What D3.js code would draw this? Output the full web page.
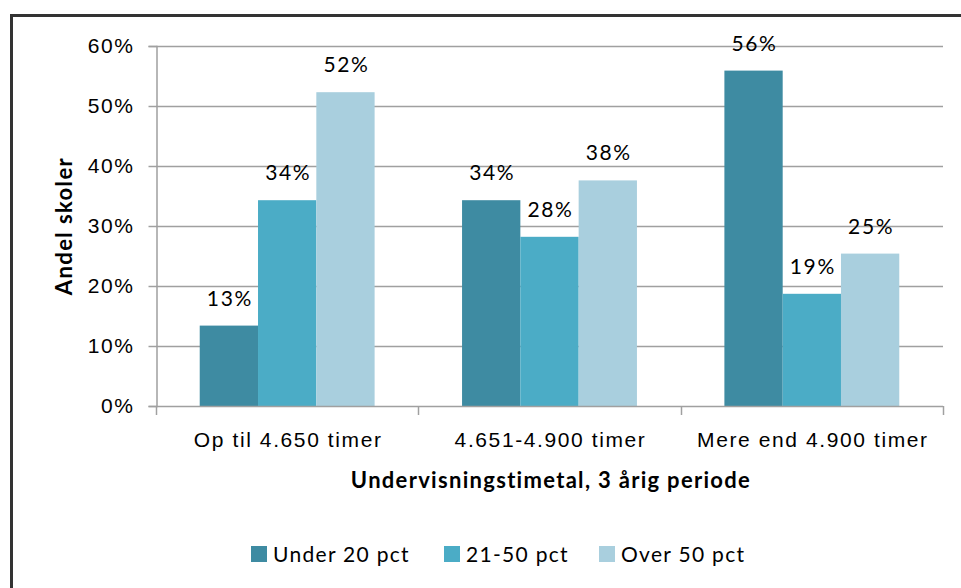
<!DOCTYPE html>
<html>
<head>
<meta charset="utf-8">
<script src="https://cdn.jsdelivr.net/npm/d3@7"></script>
<style>
  body { margin: 0; background: #fff; }
  svg { display: block; font-family: Lato, "Open Sans", sans-serif; }
  .tick text { font-size: 21px; fill: #000; letter-spacing: 1.6px; }
</style>
</head>
<body>
<svg id="chart" width="961" height="588"></svg>
<script>
// data
const categories = ["Op til 4.650 timer", "4.651-4.900 timer", "Mere end 4.900 timer"];
const seriesNames = ["Under 20 pct", "21-50 pct", "Over 50 pct"];
const under20 = [0.134, 0.343, 0.559];
const pct21to50 = [0.343, 0.282, 0.187];
const over50 = [0.523, 0.376, 0.254];
const yTicks = [0, 0.1, 0.2, 0.3, 0.4, 0.5, 0.6];
const colors = ["#3e8ba2", "#4bacc6", "#a9cfde"];

const seriesVals = [under20, pct21to50, over50];

const svg = d3.select("#chart");

// frame (only top and left edges show in the crop)
svg.append("line").attr("x1", 11).attr("x2", 961).attr("y1", 15.5).attr("y2", 15.5)
  .attr("stroke", "#333").attr("stroke-width", 3);
svg.append("line").attr("x1", 11.5).attr("x2", 11.5).attr("y1", 14).attr("y2", 588)
  .attr("stroke", "#333").attr("stroke-width", 3);

const pLeft = 156, pRight = 943, pTop = 46, pBottom = 406;

const y = d3.scaleLinear().domain([0, 0.6]).range([pBottom, pTop]);
const x = d3.scaleBand().domain(categories).range([pLeft, pRight]).padding(0);
const xs = d3.scaleBand().domain(d3.range(seriesNames.length))
  .range([0, x.bandwidth()]).paddingInner(0).paddingOuter(0.75);

// gridlines
svg.append("g").selectAll("line").data(yTicks.slice(1)).join("line")
  .attr("x1", pLeft).attr("x2", pRight)
  .attr("y1", d => Math.round(y(d)) + 0.5).attr("y2", d => Math.round(y(d)) + 0.5)
  .attr("stroke", "#a0a0a0").attr("stroke-width", 1.5);

// y axis
const yAxis = svg.append("g").attr("transform", `translate(${pLeft + 0.5},0)`)
  .call(d3.axisLeft(y).tickValues(yTicks).tickFormat(d3.format(".0%")).tickSize(8).tickPadding(14));
yAxis.select(".domain").attr("stroke", "#a0a0a0").attr("stroke-width", 1.5);
yAxis.selectAll(".tick line").attr("stroke", "#a0a0a0").attr("stroke-width", 1.5);

// bars
const rows = categories.map((c, i) => seriesVals.map((s, j) => ({cat: c, j: j, v: s[i]})));
const groups = svg.append("g").selectAll("g").data(rows).join("g")
  .attr("transform", (d, i) => `translate(${x(categories[i])},0)`);
groups.selectAll("rect").data(d => d).join("rect")
  .attr("x", d => xs(d.j)).attr("width", xs.bandwidth())
  .attr("y", d => y(d.v)).attr("height", d => y(0) - y(d.v))
  .attr("fill", d => colors[d.j]);
groups.selectAll("text").data(d => d).join("text")
  .attr("x", d => xs(d.j) + xs.bandwidth() / 2 + 1)
  .attr("y", d => y(d.v) - 20)
  .attr("text-anchor", "middle").attr("font-size", 21).attr("letter-spacing", 1.6)
  .attr("fill", "#000")
  .text(d => d3.format(".0%")(d.v));

// x axis
const xAxis = svg.append("g").attr("transform", `translate(0,${pBottom + 0.5})`)
  .call(d3.axisBottom(x).tickSize(0).tickPadding(26));
xAxis.select(".domain").remove();
xAxis.selectAll(".tick text").attr("dx", 1);
svg.append("line").attr("x1", pLeft).attr("x2", pRight)
  .attr("y1", pBottom + 0.5).attr("y2", pBottom + 0.5)
  .attr("stroke", "#a0a0a0").attr("stroke-width", 1.5);
const bounds = categories.map(c => x(c)).concat([x(categories[categories.length - 1]) + x.bandwidth()]);
svg.append("g").selectAll("line").data(bounds).join("line")
  .attr("x1", d => Math.round(d) + 0.5).attr("x2", d => Math.round(d) + 0.5)
  .attr("y1", pBottom).attr("y2", pBottom + 9)
  .attr("stroke", "#a0a0a0").attr("stroke-width", 1.5);

// axis titles
svg.append("text").attr("transform", "translate(72,226) rotate(-90)")
  .attr("text-anchor", "middle").attr("font-size", 22).attr("font-weight", "bold")
  .attr("letter-spacing", 1.4)
  .text("Andel skoler");
svg.append("text").attr("x", 551).attr("y", 488)
  .attr("text-anchor", "middle").attr("font-size", 22).attr("font-weight", "bold")
  .attr("letter-spacing", 1.3)
  .text("Undervisningstimetal, 3 årig periode");

// legend
const legendX = [251, 444, 599];
const leg = svg.append("g").selectAll("g").data(seriesNames).join("g")
  .attr("transform", (d, i) => `translate(${legendX[i]},546)`);
leg.append("rect").attr("width", 16).attr("height", 16).attr("fill", (d, i) => colors[i]);
leg.append("text").attr("x", 22).attr("y", 16).attr("font-size", 21)
  .attr("letter-spacing", 1.3).text(d => d);
</script>
</body>
</html>
